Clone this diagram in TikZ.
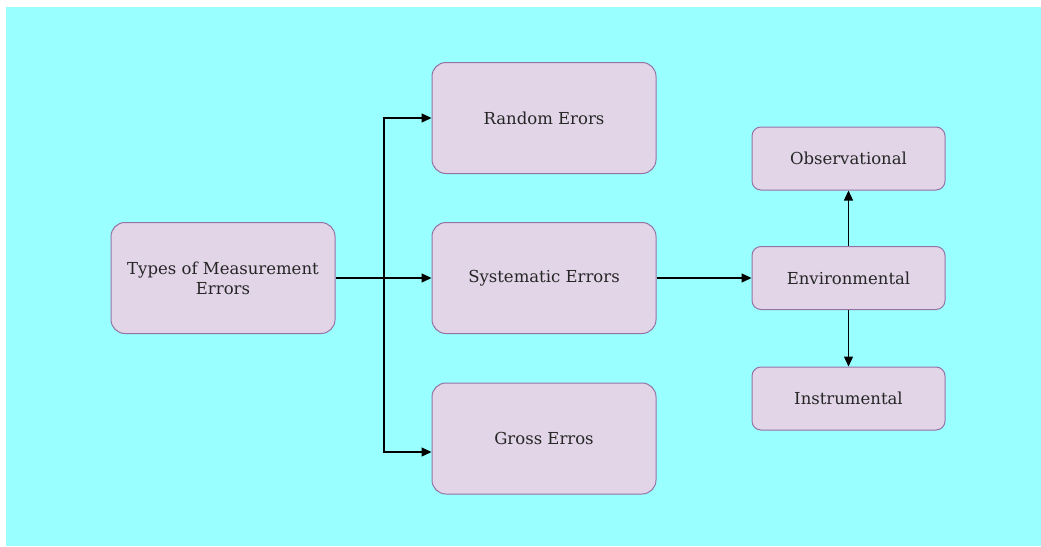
\documentclass[tikz,border=0pt]{standalone}
\usepackage{fontspec}
\setmainfont{DejaVu Serif}
\usetikzlibrary{arrows.meta}
\definecolor{bgcyan}{HTML}{99FFFF}
\definecolor{boxfill}{HTML}{E1D5E7}
\definecolor{boxdraw}{HTML}{9673A6}
\tikzset{
  box/.style={draw=boxdraw, fill=boxfill, line width=1pt, rounded corners=14pt,
    minimum width=224pt, minimum height=111pt, align=center, inner sep=0pt,
    font=\fontsize{16.5}{20}\selectfont, text=black!85},
  sbox/.style={box, minimum width=193pt, minimum height=63pt, rounded corners=9pt},
  conn/.style={line width=1.3pt, -{Triangle[length=10pt,width=9pt]}}
}
\begin{document}
\begin{tikzpicture}[x=1pt,y=-1pt]
\useasboundingbox (0,0) rectangle (1041,546);
\fill[white] (0,0) rectangle (1041,546);
\fill[bgcyan] (6,7) rectangle (1041,546);
\node[box] (types) at (223,278) {Types of Measurement\\Errors};
\node[box] (random) at (544,118) {Random Erors};
\node[box] (syst) at (544,278) {Systematic Errors};
\node[box] (gross) at (544,438.5) {Gross Erros};
\node[sbox] (obs) at (848.5,158.5) {Observational};
\node[sbox] (env) at (848.5,278) {Environmental};
\node[sbox] (ins) at (848.5,398.5) {Instrumental};
\coordinate (br) at (384,278);
\draw[conn] (types.east) -- (syst.west);
\draw[conn] (br) |- (random.west);
\draw[conn] (br) |- (gross.west |- 0,452);
\draw[conn] (syst.east) -- (env.west);
\draw[conn] (env.north) -- (obs.south);
\draw[conn] (env.south) -- (ins.north);
\end{tikzpicture}
\end{document}
